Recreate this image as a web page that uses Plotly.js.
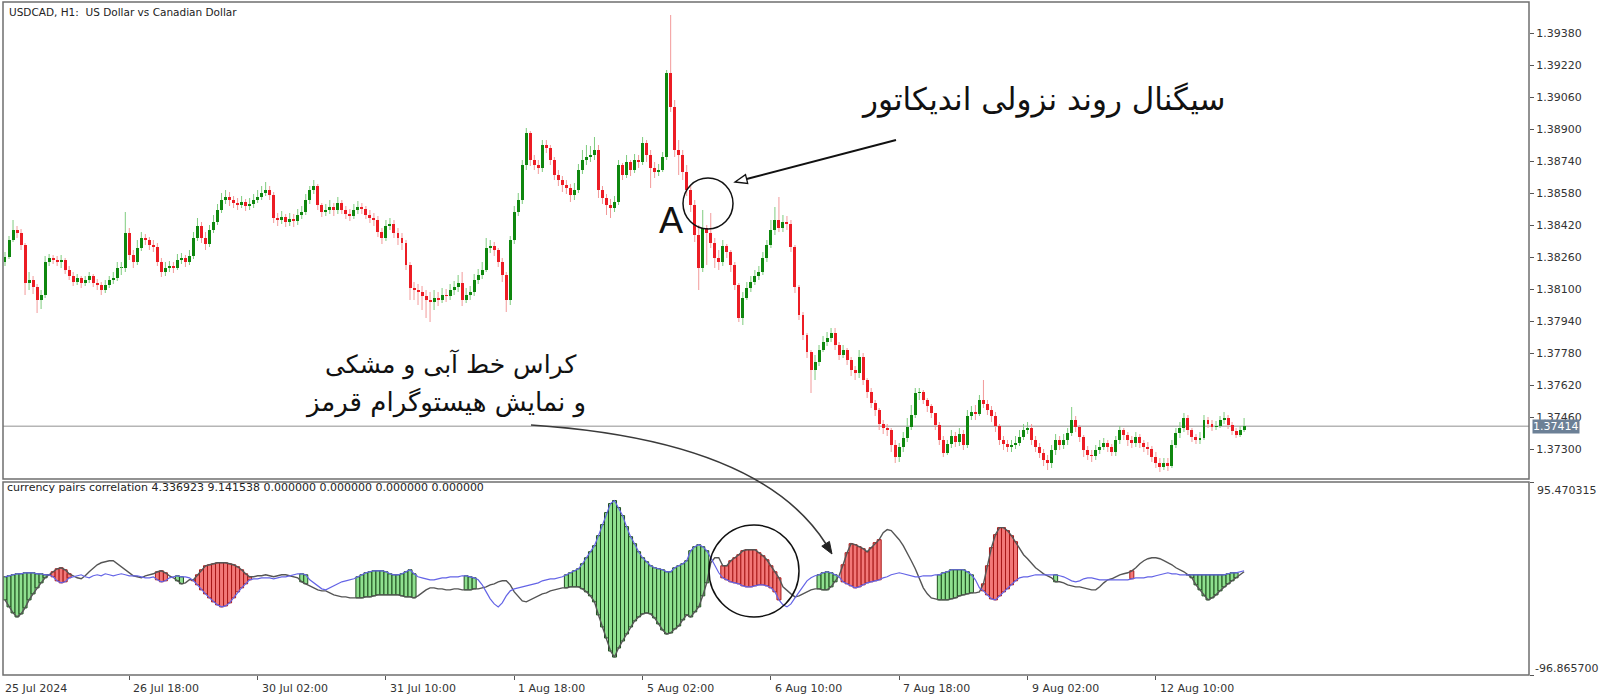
<!DOCTYPE html>
<html><head><meta charset="utf-8">
<script src="https://cdn.plot.ly/plotly-3.0.1.min.js"></script>
<style>html,body{margin:0;padding:0;background:#fff}#chart{width:1600px;height:700px}</style>
</head><body><div id="chart"></div>
<script>
// ---------------- DATA ----------------
const firstOpen = 1.38235;
const closes = [
1.38260,1.38345,1.38395,1.38380,1.38320,1.38130,1.38145,1.38110,1.38045,1.38070,
1.38235,1.38255,1.38245,1.38235,1.38245,1.38195,1.38165,1.38135,1.38155,1.38130,
1.38145,1.38165,1.38130,1.38120,1.38095,1.38120,1.38145,1.38155,1.38205,1.38205,
1.38380,1.38270,1.38235,1.38305,1.38355,1.38345,1.38320,1.38310,1.38235,1.38185,
1.38205,1.38215,1.38205,1.38245,1.38255,1.38235,1.38265,1.38355,1.38415,1.38355,
1.38325,1.38395,1.38435,1.38495,1.38545,1.38560,1.38545,1.38530,1.38520,1.38535,
1.38515,1.38525,1.38545,1.38560,1.38580,1.38595,1.38570,1.38455,1.38445,1.38460,
1.38435,1.38450,1.38440,1.38470,1.38485,1.38545,1.38595,1.38615,1.38520,1.38485,
1.38495,1.38510,1.38495,1.38530,1.38495,1.38475,1.38465,1.38495,1.38510,1.38500,
1.38470,1.38455,1.38445,1.38385,1.38355,1.38415,1.38425,1.38380,1.38355,1.38330,
1.38220,1.38105,1.38095,1.38085,1.38065,1.38045,1.38035,1.38055,1.38045,1.38070,
1.38065,1.38095,1.38110,1.38130,1.38045,1.38070,1.38085,1.38145,1.38170,1.38195,
1.38305,1.38315,1.38295,1.38235,1.38170,1.38045,1.38345,1.38485,1.38545,1.38720,
1.38880,1.38745,1.38720,1.38705,1.38820,1.38805,1.38745,1.38670,1.38645,1.38620,
1.38605,1.38570,1.38595,1.38695,1.38745,1.38760,1.38770,1.38795,1.38595,1.38555,
1.38520,1.38505,1.38535,1.38720,1.38670,1.38735,1.38695,1.38745,1.38735,1.38830,
1.38770,1.38705,1.38685,1.38695,1.38760,1.39180,1.39010,1.38795,1.38770,1.38685,
1.38595,1.38520,1.38370,1.38205,1.38405,1.38380,1.38330,1.38255,1.38235,1.38315,
1.38285,1.38220,1.38120,1.37955,1.38055,1.38105,1.38135,1.38165,1.38185,1.38255,
1.38320,1.38395,1.38445,1.38405,1.38435,1.38425,1.38310,1.38110,1.37970,1.37870,
1.37785,1.37695,1.37735,1.37795,1.37835,1.37855,1.37880,1.37820,1.37770,1.37795,
1.37745,1.37695,1.37680,1.37760,1.37645,1.37585,1.37530,1.37495,1.37425,1.37405,
1.37395,1.37320,1.37260,1.37310,1.37355,1.37410,1.37470,1.37580,1.37585,1.37545,
1.37515,1.37480,1.37420,1.37345,1.37280,1.37325,1.37365,1.37335,1.37375,1.37320,
1.37465,1.37485,1.37475,1.37545,1.37525,1.37495,1.37465,1.37415,1.37345,1.37325,
1.37310,1.37320,1.37330,1.37360,1.37395,1.37405,1.37345,1.37310,1.37280,1.37245,
1.37230,1.37295,1.37345,1.37320,1.37345,1.37380,1.37445,1.37410,1.37360,1.37295,
1.37270,1.37265,1.37295,1.37310,1.37330,1.37310,1.37285,1.37345,1.37395,1.37370,
1.37345,1.37330,1.37360,1.37330,1.37310,1.37300,1.37260,1.37230,1.37210,1.37230,
1.37215,1.37320,1.37380,1.37405,1.37455,1.37395,1.37360,1.37345,1.37355,1.37445,
1.37425,1.37410,1.37415,1.37445,1.37455,1.37420,1.37390,1.37370,1.37395,1.37414];
const highs = [
1.38285,1.38365,1.38445,1.38415,1.38400,1.38330,1.38185,1.38165,1.38125,1.38095,
1.38265,1.38275,1.38270,1.38265,1.38270,1.38255,1.38215,1.38185,1.38175,1.38165,
1.38165,1.38185,1.38175,1.38150,1.38135,1.38145,1.38165,1.38185,1.38235,1.38235,
1.38485,1.38405,1.38295,1.38345,1.38385,1.38375,1.38360,1.38345,1.38330,1.38255,
1.38235,1.38240,1.38235,1.38275,1.38280,1.38270,1.38295,1.38385,1.38455,1.38435,
1.38385,1.38420,1.38470,1.38525,1.38580,1.38595,1.38585,1.38565,1.38555,1.38565,
1.38550,1.38555,1.38575,1.38595,1.38615,1.38635,1.38615,1.38585,1.38480,1.38490,
1.38475,1.38480,1.38475,1.38500,1.38515,1.38575,1.38615,1.38645,1.38625,1.38530,
1.38525,1.38545,1.38530,1.38560,1.38545,1.38515,1.38500,1.38525,1.38540,1.38530,
1.38515,1.38495,1.38480,1.38465,1.38405,1.38445,1.38455,1.38445,1.38405,1.38380,
1.38345,1.38235,1.38135,1.38125,1.38115,1.38095,1.38085,1.38095,1.38085,1.38105,
1.38100,1.38125,1.38140,1.38170,1.38185,1.38105,1.38115,1.38175,1.38200,1.38235,
1.38355,1.38345,1.38335,1.38305,1.38255,1.38185,1.38365,1.38515,1.38580,1.38745,
1.38905,1.38890,1.38770,1.38745,1.38845,1.38845,1.38820,1.38760,1.38695,1.38665,
1.38645,1.38625,1.38630,1.38725,1.38795,1.38820,1.38815,1.38860,1.38820,1.38615,
1.38575,1.38550,1.38565,1.38745,1.38730,1.38770,1.38745,1.38775,1.38770,1.38860,
1.38845,1.38795,1.38735,1.38725,1.38785,1.39195,1.39470,1.39045,1.38845,1.38795,
1.38720,1.38620,1.38545,1.38420,1.38495,1.38420,1.38480,1.38355,1.38295,1.38345,
1.38325,1.38295,1.38235,1.38130,1.38085,1.38135,1.38165,1.38195,1.38215,1.38285,
1.38345,1.38445,1.38510,1.38560,1.38470,1.38465,1.38445,1.38320,1.38120,1.37985,
1.37880,1.37795,1.37770,1.37820,1.37865,1.37885,1.37905,1.37905,1.37835,1.37820,
1.37805,1.37760,1.37715,1.37795,1.37780,1.37655,1.37605,1.37545,1.37505,1.37445,
1.37425,1.37405,1.37345,1.37330,1.37385,1.37455,1.37520,1.37605,1.37605,1.37595,
1.37555,1.37525,1.37480,1.37435,1.37365,1.37345,1.37395,1.37385,1.37405,1.37395,
1.37495,1.37515,1.37520,1.37570,1.37645,1.37545,1.37515,1.37485,1.37425,1.37365,
1.37345,1.37345,1.37365,1.37395,1.37425,1.37435,1.37425,1.37365,1.37330,1.37300,
1.37270,1.37320,1.37375,1.37365,1.37375,1.37405,1.37510,1.37465,1.37420,1.37370,
1.37315,1.37295,1.37320,1.37345,1.37355,1.37345,1.37325,1.37365,1.37415,1.37405,
1.37385,1.37365,1.37385,1.37375,1.37345,1.37335,1.37315,1.37285,1.37255,1.37255,
1.37255,1.37345,1.37405,1.37435,1.37480,1.37470,1.37405,1.37375,1.37385,1.37470,
1.37460,1.37445,1.37440,1.37465,1.37485,1.37470,1.37435,1.37405,1.37415,1.37455];
const lows = [
1.38215,1.38250,1.38335,1.38355,1.38295,1.38070,1.38095,1.38075,1.37980,1.38000,
1.38055,1.38215,1.38225,1.38215,1.38205,1.38175,1.38145,1.38115,1.38120,1.38105,
1.38115,1.38130,1.38110,1.38095,1.38070,1.38080,1.38105,1.38125,1.38140,1.38170,
1.38185,1.38245,1.38205,1.38220,1.38290,1.38320,1.38295,1.38285,1.38215,1.38160,
1.38165,1.38185,1.38180,1.38195,1.38225,1.38210,1.38220,1.38250,1.38340,1.38330,
1.38295,1.38310,1.38380,1.38420,1.38480,1.38525,1.38515,1.38505,1.38495,1.38505,
1.38490,1.38495,1.38505,1.38530,1.38545,1.38565,1.38545,1.38430,1.38415,1.38425,
1.38410,1.38415,1.38410,1.38420,1.38450,1.38470,1.38525,1.38575,1.38495,1.38460,
1.38465,1.38475,1.38465,1.38475,1.38475,1.38450,1.38440,1.38450,1.38475,1.38475,
1.38450,1.38430,1.38415,1.38360,1.38325,1.38340,1.38395,1.38355,1.38320,1.38295,
1.38195,1.38045,1.38045,1.38020,1.37995,1.37955,1.37935,1.37995,1.38015,1.38030,
1.38035,1.38045,1.38070,1.38085,1.38015,1.38030,1.38045,1.38065,1.38125,1.38150,
1.38185,1.38280,1.38265,1.38210,1.38135,1.37985,1.38020,1.38325,1.38465,1.38525,
1.38695,1.38715,1.38695,1.38675,1.38685,1.38780,1.38720,1.38645,1.38615,1.38585,
1.38575,1.38535,1.38545,1.38580,1.38675,1.38720,1.38735,1.38745,1.38555,1.38525,
1.38470,1.38455,1.38485,1.38520,1.38645,1.38655,1.38665,1.38680,1.38705,1.38720,
1.38735,1.38605,1.38655,1.38665,1.38685,1.38745,1.38985,1.38760,1.38670,1.38645,
1.38565,1.38485,1.38335,1.38095,1.38185,1.38220,1.38305,1.38205,1.38195,1.38215,
1.38255,1.38185,1.38095,1.37935,1.37920,1.38045,1.38085,1.38120,1.38145,1.38170,
1.38235,1.38305,1.38370,1.38385,1.38385,1.38395,1.38285,1.38080,1.37945,1.37845,
1.37755,1.37580,1.37645,1.37715,1.37785,1.37815,1.37835,1.37795,1.37745,1.37755,
1.37720,1.37665,1.37645,1.37655,1.37620,1.37555,1.37505,1.37465,1.37395,1.37375,
1.37365,1.37285,1.37230,1.37235,1.37285,1.37335,1.37395,1.37455,1.37545,1.37525,
1.37485,1.37455,1.37395,1.37320,1.37260,1.37270,1.37305,1.37310,1.37315,1.37295,
1.37305,1.37445,1.37445,1.37465,1.37505,1.37470,1.37435,1.37385,1.37320,1.37295,
1.37285,1.37285,1.37300,1.37315,1.37345,1.37375,1.37320,1.37285,1.37255,1.37215,
1.37195,1.37205,1.37270,1.37295,1.37300,1.37320,1.37365,1.37385,1.37335,1.37260,
1.37245,1.37235,1.37245,1.37275,1.37295,1.37285,1.37265,1.37265,1.37325,1.37345,
1.37315,1.37305,1.37310,1.37305,1.37285,1.37270,1.37235,1.37205,1.37185,1.37195,
1.37190,1.37205,1.37305,1.37355,1.37385,1.37370,1.37335,1.37325,1.37325,1.37345,
1.37405,1.37390,1.37395,1.37405,1.37425,1.37400,1.37370,1.37355,1.37360,1.37385];

// indicator sub-window: blue line and black line
const blueLine = [
1,2,3,4,4,5,5,5,4,4,3,3,
1,-3,-5,-4,0,
1,2,3,1,0,2,3,2,4,3,2,3,4,3,2,2,
2,1,0,0,1,
-2,-4,-3,
0,1, 2,1, 1,0,
-3,-7,-12,-16,-20,-24,-27,-29,-28,-25,-20,-14,-10,-6,-2,
-1,-1,0,0,0,-1,0,1,1,2,3,4,
4,3,
-2,-5,-8,-11,-12,-10,-8,-6,-4,-3,-2,-1,
1,3,5,6,7,7,7,6,4,3,3,4,6,8,4,
1,0,-1,-2,-2,-1,0,0,1,1,1,2,
2,1,0,
-2,-7,-14,-21,-26,-29,-25,-18,-13,-11,-10,-9,-8,-7,-6,-5,-3,-2,-1,-1,0,1,
3,5,7,9,14,20,26,32,42,53,65,74,77,70,62,51,41,34,26,20,16,12,10,9,8,6,6,10,12,14,17,27,31,33,31,27,
20,12,5,
0,-2,-4,-5,-6,-8,-9,-9,-8,-7,-7,-8,-10,-14,-22,
-27,-29,-26,-20,-14,-8,-3,0,2,
3,5,6,5,3,
1,
-4,-6,-8,-10,-9,-7,-5,-4,-3,-2,
0,1,3,4,5,4,3,2,1,1,2,2,2,3,
3,5,6,8,8,8,8,6,3,-2,-10,
-13,-17,-21,-22,-18,-14,-11,-7,-3,
0,1,1,2,3,3,3,3,3,3,2,1,-1,-3,-4,-3,-1,0,0,-1,-2,-2,-2,-2,-2,-2,-2,-2,-1,0,0,0,1,1,2,3,4,5,4,4,3,3,
3,3,3,3,3,3,3,3,3,3,4,5,5,6,7];
const blackLine = [
-22,-29,-35,-39,-36,-30,-22,-16,-10,-5,0,3,
6,9,10,8,4,
2,0,-1,2,6,10,13,15,16,17,17,14,11,8,5,2,
1,0,2,3,4,
6,7,5,
2,0, -3,-6, -5,-2,
-2,3,8,12,13,14,15,15,15,14,13,11,8,4,1,
1,2,2,3,2,1,2,3,3,2,1,0,
-4,-6,
-8,-10,-12,-13,-13,-15,-17,-18,-19,-19,-20,-20,
-20,-20,-19,-19,-18,-17,-17,-17,-17,-17,-17,-18,-19,-19,-20,
-18,-15,-12,-10,-10,-11,-11,-12,-12,-11,-11,-12,
-12,-12,-11,
-11,-10,-9,-7,-6,-4,-3,-3,-7,-14,-19,-23,-24,-22,-20,-18,-16,-15,-13,-12,-11,-10,
-10,-9,-9,-9,-11,-14,-18,-24,-37,-49,-60,-73,-79,-70,-63,-56,-49,-43,-39,-36,-35,-36,-40,-46,-52,-56,-55,-51,-48,-42,-37,-39,-34,-29,-18,-5,
15,20,20,
12,12,17,20,23,27,28,28,28,25,22,18,12,6,0,
-9,-13,-16,-19,-18,-16,-14,-12,-11,
-11,-12,-12,-9,-4,
2,
13,25,34,33,31,29,26,30,35,38,
45,48,47,43,38,32,25,17,9,-1,-10,-16,-20,-21,
-22,-22,-22,-21,-20,-18,-17,-16,-15,-15,-14,
-6,12,30,43,50,50,47,42,36,
29,23,19,14,10,7,4,2,0,-4,-4,-5,-7,-8,-9,-9,-10,-11,-12,-12,-9,-5,-2,-1,1,3,4,5,7,10,14,17,19,20,20,19,17,15,13,10,8,6,
3,0,-7,-12,-18,-22,-20,-17,-13,-9,-6,-3,0,3,6];
// bars where the histogram is painted (inclusive bar-number ranges)
const greenSpans = [[1,12],[44,45],[75,76],[89,103],[116,118],[141,176],[204,208],[234,242],[263,263],[296,308]];
const redSpans   = [[13,17],[39,41],[48,62],[180,194],[210,219],[245,253],[282,282]];

const priceTicks = [1.37300,1.37460,1.37620,1.37780,1.37940,1.38100,1.38260,1.38420,1.38580,1.38740,1.38900,1.39060,1.39220,1.39380];
const dateTickBars = [0,32,64,96,128,160,192,224,256,288];
const dateLabels = ['25 Jul 2024','26 Jul 18:00','30 Jul 02:00','31 Jul 10:00','1 Aug 18:00','5 Aug 02:00','6 Aug 10:00','7 Aug 18:00','9 Aug 02:00','12 Aug 10:00'];
const lastPrice = 1.37414;
const indMax = 95.470315, indMin = -96.865700;
const chartTitle = 'USDCAD, H1:\u00a0 US Dollar vs Canadian Dollar';
const indTitle = 'currency pairs correlation 4.336923 9.141538 0.000000 0.000000 0.000000 0.000000';
const note1 = 'سیگنال روند نزولی اندیکاتور';
const note2a = 'کراس خط آبی و مشکی';
const note2b = 'و نمایش هیستوگرام قرمز';

// ---------------- LAYOUT GEOMETRY ----------------
const PL = 3, PR = 1529, PT = 2, PB = 675;           // plot area in px
const MAIN_BOTTOM = 479, SUB_TOP = 482;
const fx = p => (p - PL) / (PR - PL);
const fy = p => (PB - p) / (PB - PT);
const xRange = [0.5, 381.05];
const barPx = b => PL + (b - xRange[0]) / (xRange[1] - xRange[0]) * (PR - PL);

const FONT = 'DejaVu Sans, Verdana, sans-serif';
const UP_BODY = '#0e870e', DN_BODY = '#ec1c24', UP_WICK = '#7fcc7f', DN_WICK = '#f29a9a';

const N = closes.length;
const bars = closes.map((_, k) => k + 1);
const opens = closes.map((c, k) => k === 0 ? firstOpen : closes[k - 1]);

function bodyTrace(up) {
  const x = [], base = [], h = [];
  for (let k = 0; k < N; k++) {
    const isUp = closes[k] >= opens[k];
    if (isUp !== up) continue;
    const lo = Math.min(opens[k], closes[k]), hi = Math.max(opens[k], closes[k]);
    x.push(bars[k]); base.push(lo); h.push(Math.max(hi - lo, 0.00005));
  }
  return {type: 'bar', x, y: h, base, width: 0.74, xaxis: 'x', yaxis: 'y',
    marker: {color: up ? UP_BODY : DN_BODY, line: {width: 0}}, hoverinfo: 'skip'};
}
function wickTrace(up) {
  const x = [], y = [];
  for (let k = 0; k < N; k++) {
    const isUp = closes[k] >= opens[k];
    if (isUp !== up) continue;
    const lo = Math.min(opens[k], closes[k]), hi = Math.max(opens[k], closes[k]);
    const b = bars[k];
    x.push(b, b, null, b, b, null);
    y.push(highs[k], hi, null, lo, lows[k], null);
  }
  return {type: 'scatter', mode: 'lines', x, y, xaxis: 'x', yaxis: 'y', connectgaps: false,
    line: {color: up ? UP_WICK : DN_WICK, width: 1}, hoverinfo: 'skip'};
}
function histTrace(spans, fill, edge) {
  const x = [], base = [], h = [];
  spans.forEach(([a, b]) => {
    for (let i = a; i <= b; i++) {
      const k = i - 1;
      x.push(i); base.push(Math.min(blueLine[k], blackLine[k]));
      h.push(Math.abs(blueLine[k] - blackLine[k]));
    }
  });
  return {type: 'bar', x, y: h, base, width: 1, xaxis: 'x2', yaxis: 'y2',
    marker: {color: fill, line: {color: edge, width: 1}}, hoverinfo: 'skip'};
}

const traces = [
  wickTrace(true), wickTrace(false), bodyTrace(true), bodyTrace(false),
  histTrace(greenSpans, '#8fe08f', '#1f4f1f'),
  histTrace(redSpans, '#f27878', '#a81818'),
  {type: 'scatter', mode: 'lines', x: bars, y: blackLine, xaxis: 'x2', yaxis: 'y2',
   line: {color: '#555555', width: 1.4}, hoverinfo: 'skip'},
  {type: 'scatter', mode: 'lines', x: bars, y: blueLine, xaxis: 'x2', yaxis: 'y2',
   line: {color: '#6464e6', width: 1.2}, hoverinfo: 'skip'}
];

// path helper: pixel points -> paper path
const P = (x, y) => fx(x).toFixed(5) + ',' + fy(y).toFixed(5);

const shapes = [
  {type: 'line', xref: 'paper', yref: 'y', x0: 0, x1: 1, y0: lastPrice, y1: lastPrice,
   line: {color: '#b5b5b5', width: 1.5}, layer: 'below'},
  {type: 'rect', xref: 'paper', yref: 'paper', x0: 0, x1: 1, y0: fy(MAIN_BOTTOM), y1: 1,
   line: {color: '#6f6f6f', width: 1.5}},
  {type: 'rect', xref: 'paper', yref: 'paper', x0: 0, x1: 1, y0: 0, y1: fy(SUB_TOP),
   line: {color: '#6f6f6f', width: 1.5}},
  // circle around A
  {type: 'circle', xref: 'paper', yref: 'paper', x0: fx(683), x1: fx(733), y0: fy(229), y1: fy(178),
   line: {color: '#111', width: 1.5}},
  // pointer line to circle
  {type: 'path', xref: 'paper', yref: 'paper', path: 'M' + P(896, 140) + 'L' + P(746.6, 179),
   line: {color: '#111', width: 2}},
  {type: 'path', xref: 'paper', yref: 'paper',
   path: 'M' + P(735, 182) + 'L' + P(747.7, 183.4) + 'L' + P(745.5, 174.6) + 'Z',
   fillcolor: '#ffffff', line: {color: '#111', width: 1.3}},
  // curved arrow
  {type: 'path', xref: 'paper', yref: 'paper', path: 'M' + P(531, 425) + 'Q' + P(760, 440) + ' ' + P(826, 544),
   line: {color: '#3a3a3a', width: 1.6}},
  {type: 'path', xref: 'paper', yref: 'paper',
   path: 'M' + P(832, 554) + 'L' + P(821.8, 546.2) + 'L' + P(829.4, 541.4) + 'Z',
   fillcolor: '#222', line: {color: '#222', width: 1}},
  // circle in indicator window
  {type: 'circle', xref: 'paper', yref: 'paper', x0: fx(709), x1: fx(799), y0: fy(617), y1: fy(525),
   line: {color: '#111', width: 1.5}}
];

const annotations = [
  {xref: 'paper', yref: 'paper', x: fx(7), y: fy(12), xanchor: 'left', yanchor: 'middle', showarrow: false,
   text: chartTitle, font: {family: FONT, size: 10.5, color: '#222'}},
  {xref: 'paper', yref: 'paper', x: fx(5), y: fy(487), xanchor: 'left', yanchor: 'middle', showarrow: false,
   text: indTitle, font: {family: FONT, size: 11, color: '#222'}},
  {xref: 'paper', yref: 'paper', x: fx(1535), y: fy(490), xanchor: 'left', yanchor: 'middle', showarrow: false,
   text: indMax.toFixed(6), font: {family: FONT, size: 11, color: '#333'}},
  {xref: 'paper', yref: 'paper', x: fx(1533), y: fy(668), xanchor: 'left', yanchor: 'middle', showarrow: false,
   text: indMin.toFixed(6), font: {family: FONT, size: 11, color: '#333'}},
  {xref: 'paper', yref: 'y', x: fx(1532), y: lastPrice, xanchor: 'left', yanchor: 'middle', showarrow: false,
   text: lastPrice.toFixed(5), bgcolor: '#6c8096', borderpad: 0,
   font: {family: FONT, size: 11, color: '#ffffff'}},
  {xref: 'paper', yref: 'paper', x: fx(1043), y: fy(99), xanchor: 'center', yanchor: 'middle', showarrow: false,
   text: note1, font: {family: FONT, size: 31, color: '#111'}},
  {xref: 'paper', yref: 'paper', x: fx(450), y: fy(364), xanchor: 'center', yanchor: 'middle', showarrow: false,
   text: note2a, font: {family: FONT, size: 25, color: '#111'}},
  {xref: 'paper', yref: 'paper', x: fx(445), y: fy(402), xanchor: 'center', yanchor: 'middle', showarrow: false,
   text: note2b, font: {family: FONT, size: 26, color: '#111'}},
  {xref: 'paper', yref: 'paper', x: fx(671), y: fy(221), xanchor: 'center', yanchor: 'middle', showarrow: false,
   text: 'A', font: {family: 'Liberation Sans, Arial, sans-serif', size: 36, color: '#111'}}
];
dateTickBars.forEach((b, j) => {
  annotations.push({xref: 'paper', yref: 'paper', x: fx(barPx(b) + 2), y: fy(688), xanchor: 'left', yanchor: 'middle',
    showarrow: false, text: dateLabels[j], font: {family: FONT, size: 11, color: '#333'}});
});

const layout = {
  width: 1600, height: 700,
  margin: {l: PL, r: 1600 - PR, t: PT, b: 700 - PB, pad: 0},
  paper_bgcolor: '#ffffff', plot_bgcolor: '#ffffff',
  showlegend: false, barmode: 'overlay', bargap: 0,
  xaxis: {domain: [0, 1], range: xRange, anchor: 'y', showgrid: false, zeroline: false,
          showticklabels: false, ticks: '', showline: false, fixedrange: true},
  yaxis: {domain: [fy(MAIN_BOTTOM), 1], range: [1.37150, 1.39535], side: 'right', anchor: 'x',
          tickvals: priceTicks, ticktext: priceTicks.map(v => v.toFixed(5)),
          ticks: 'outside', ticklen: 4, tickcolor: '#555', tickwidth: 1,
          tickfont: {family: FONT, size: 11, color: '#333'},
          showgrid: false, zeroline: false, showline: false, fixedrange: true},
  xaxis2: {domain: [0, 1], range: xRange, anchor: 'y2', tickvals: dateTickBars, ticks: 'outside',
           ticklen: 4, tickcolor: '#555', showticklabels: false, showgrid: false, zeroline: false,
           showline: false, fixedrange: true},
  yaxis2: {domain: [0, fy(SUB_TOP)], range: [indMin, indMax], side: 'right', anchor: 'x2',
           tickvals: [indMax, indMin], ticktext: ['', ''], ticks: 'outside', ticklen: 4, tickcolor: '#555',
           showgrid: false, zeroline: false, showline: false, fixedrange: true},
  shapes, annotations
};

Plotly.newPlot('chart', traces, layout, {staticPlot: true, displayModeBar: false});
</script>
</body></html>
